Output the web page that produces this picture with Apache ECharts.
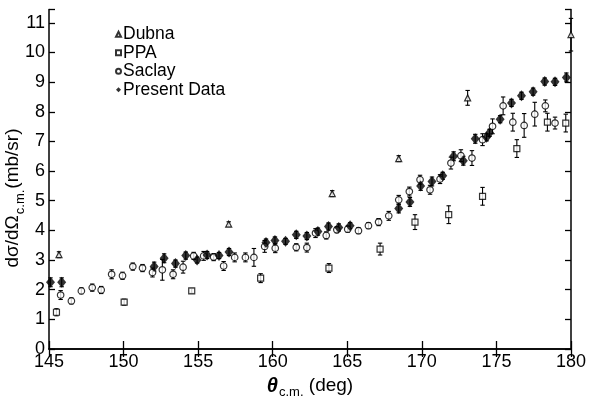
<!DOCTYPE html>
<html>
<head>
<meta charset="utf-8">
<script src="https://cdn.jsdelivr.net/npm/echarts@6/dist/echarts.min.js"></script>
<style>
html,body{margin:0;padding:0;background:#fff;}
#chart{width:589px;height:402px;}
</style>
</head>
<body>
<div id="chart"></div>
<script>
// [theta (deg), dsigma/dOmega (mb/sr), error]
var dubna = [[145.67,3.18,0.1],[157.05,4.21,0.08],[163.99,5.24,0.1],[168.45,6.42,0.1],[173.07,8.47,0.25],[180.0,10.6,0.55]];
var ppa = [[145.5,1.24,0.12],[150.04,1.58,0.1],[154.57,1.96,0.08],[159.19,2.39,0.15],[163.77,2.73,0.15],[167.2,3.37,0.2],[169.54,4.28,0.25],[171.8,4.53,0.3],[174.07,5.15,0.3],[176.37,6.76,0.3],[178.42,7.65,0.3],[179.65,7.62,0.3]];
var saclay = [[145.78,1.82,0.15],[146.5,1.62,0.1],[147.17,1.96,0.1],[147.9,2.07,0.12],[148.5,1.99,0.12],[149.2,2.52,0.15],[149.93,2.47,0.12],[150.62,2.78,0.12],[151.27,2.73,0.12],[151.94,2.58,0.15],[152.6,2.67,0.35],[153.32,2.52,0.15],[153.99,2.76,0.2],[154.7,3.14,0.12],[155.37,3.14,0.15],[156.04,3.1,0.12],[156.71,2.8,0.15],[157.45,3.09,0.15],[158.17,3.09,0.15],[158.74,3.09,0.3],[159.46,3.46,0.2],[160.17,3.40,0.15],[161.58,3.43,0.12],[162.29,3.42,0.15],[162.87,3.91,0.15],[163.59,3.83,0.12],[164.3,4.02,0.1],[165.03,4.04,0.1],[165.75,3.99,0.1],[166.42,4.16,0.1],[167.1,4.28,0.12],[167.78,4.49,0.15],[168.45,5.03,0.15],[169.16,5.31,0.15],[169.88,5.71,0.15],[170.55,5.37,0.15],[171.22,5.73,0.15],[171.95,6.27,0.2],[172.62,6.52,0.2],[173.36,6.44,0.25],[174.07,7.06,0.2],[174.74,7.51,0.25],[175.45,8.2,0.3],[176.1,7.65,0.3],[176.86,7.54,0.4],[177.57,7.92,0.4],[178.28,8.2,0.2],[178.93,7.62,0.2]];
var present = [[145.1,2.25,0.15],[145.85,2.25,0.15],[152.05,2.78,0.15],[152.72,3.06,0.15],[153.48,2.88,0.12],[154.17,3.15,0.12],[154.93,3.0,0.1],[155.6,3.17,0.12],[156.4,3.15,0.1],[157.07,3.27,0.12],[159.55,3.59,0.12],[160.15,3.66,0.12],[160.86,3.63,0.1],[161.58,3.85,0.12],[162.29,3.81,0.12],[163.03,3.96,0.12],[163.74,4.13,0.12],[164.43,4.1,0.12],[165.19,4.16,0.1],[168.45,4.74,0.15],[169.2,4.96,0.15],[169.92,5.5,0.15],[170.68,5.65,0.15],[171.4,5.84,0.12],[172.13,6.5,0.15],[172.78,6.35,0.15],[173.58,7.09,0.15],[174.34,7.14,0.12],[174.54,7.29,0.12],[175.25,7.75,0.12],[176.01,8.3,0.12],[176.68,8.54,0.12],[177.46,8.68,0.12],[178.24,9.02,0.12],[178.93,9.01,0.12],[179.69,9.16,0.15]];
var xTicks = {min:145, max:180, step:5};
var yTicks = {min:0, max:11, step:1};
var seriesNames = ['Dubna','PPA','Saclay','Present Data'];

var FONT = 'Liberation Sans';
var chart = echarts.init(document.getElementById('chart'), null, {renderer:'canvas'});

function errSeries(arr){
  return {
    type:'custom', silent:true, z:1,
    data: arr,
    encode:{x:0,y:[1]},
    renderItem:function(params, api){
      var x = api.value(0), y = api.value(1), e = api.value(2);
      var p1 = api.coord([x, y - e]);
      var p2 = api.coord([x, y + e]);
      var c = 2.2;
      var st = {stroke:'#000', lineWidth:1.1};
      return {type:'group', children:[
        {type:'line', shape:{x1:p1[0],y1:p1[1],x2:p2[0],y2:p2[1]}, style:st},
        {type:'line', shape:{x1:p1[0]-c,y1:p1[1],x2:p1[0]+c,y2:p1[1]}, style:st},
        {type:'line', shape:{x1:p2[0]-c,y1:p2[1],x2:p2[0]+c,y2:p2[1]}, style:st}
      ]};
    }
  };
}
function pts(arr){ return arr.map(function(d){return [d[0], d[1]];}); }

var openStyle = {color:'#fff', borderColor:'#000', borderWidth:1.2};
var axisLineStyle = {show:true, lineStyle:{color:'#000', width:1.5}};
var option = {
  animation:false,
  backgroundColor:'#fff',
  grid:{left:49, right:17, top:9.5, bottom:53, show:false},
  legend:{
    data:[
      {name:'Dubna', icon:'triangle'},
      {name:'PPA', icon:'rect'},
      {name:'Saclay', icon:'circle'},
      {name:'Present Data', icon:'diamond'}
    ],
    orient:'vertical', left:110, top:20, itemGap:0, itemWidth:5, itemHeight:5,
    textStyle:{fontFamily:FONT, fontSize:17.5, color:'#000', lineHeight:18.5, padding:[0,0,0,-3]}
  },
  xAxis:[
    {type:'value', min:xTicks.min, max:xTicks.max, interval:xTicks.step, position:'bottom',
     axisLine:axisLineStyle, splitLine:{show:false},
     axisTick:{inside:true, length:8, lineStyle:{color:'#000', width:1.3}},
     axisLabel:{fontFamily:FONT, fontSize:18, color:'#000', margin:4}},
    {type:'value', min:xTicks.min, max:xTicks.max, interval:xTicks.step, position:'top',
     axisLine:axisLineStyle, splitLine:{show:false},
     axisTick:{inside:true, length:8, lineStyle:{color:'#000', width:1.3}},
     axisLabel:{show:false}}
  ],
  yAxis:[
    {type:'value', min:yTicks.min, max:11.45, interval:yTicks.step, position:'left',
     axisLine:axisLineStyle, splitLine:{show:false},
     axisTick:{inside:true, length:6, lineStyle:{color:'#000', width:1.3}},
     axisLabel:{fontFamily:FONT, fontSize:18, color:'#000', margin:4,
       formatter:function(v){ return (Math.abs(v-Math.round(v))<1e-6 && v<=yTicks.max) ? String(Math.round(v)) : ''; }}},
    {type:'value', min:yTicks.min, max:11.45, interval:yTicks.step, position:'right',
     axisLine:axisLineStyle, splitLine:{show:false},
     axisTick:{inside:true, length:6, lineStyle:{color:'#000', width:1.3}},
     axisLabel:{show:false}}
  ],
  series:[
    errSeries(dubna), errSeries(ppa), errSeries(saclay), errSeries(present),
    {name:seriesNames[0], type:'scatter', z:3, data:pts(dubna), symbol:'triangle', symbolSize:6,
     itemStyle:openStyle},
    {name:seriesNames[1], type:'scatter', z:3, data:pts(ppa), symbol:'rect', symbolSize:6,
     itemStyle:openStyle},
    {name:seriesNames[2], type:'scatter', z:3, data:pts(saclay), symbol:'circle', symbolSize:6.5,
     itemStyle:openStyle},
    {name:seriesNames[3], type:'scatter', z:4, data:pts(present), symbol:'diamond', symbolSize:[9,11],
     itemStyle:{color:'#000'}}
  ],
  graphic:[
    {type:'text', x:310, y:387, z:10,
     style:{
       text:'{t|θ}{s|c.m.}{a| (deg)}',
       align:'center', verticalAlign:'middle', fill:'#000',
       rich:{
         t:{fontFamily:FONT, fontSize:20, fontStyle:'italic', fontWeight:'bold', lineHeight:22, verticalAlign:'top', fill:'#000'},
         s:{fontFamily:FONT, fontSize:13, lineHeight:13, padding:[10,0,0,1], verticalAlign:'top', fill:'#000'},
         a:{fontFamily:FONT, fontSize:19, lineHeight:22, verticalAlign:'top', fill:'#000'}
       }
     }},
    {type:'text', x:14, y:198, rotation:Math.PI/2, z:10,
     style:{
       text:'{a|dσ/dΩ}{s|c.m.}{a|(mb/sr)}',
       align:'center', verticalAlign:'middle', fill:'#000',
       rich:{
         a:{fontFamily:FONT, fontSize:19, lineHeight:22, verticalAlign:'top', fill:'#000'},
         s:{fontFamily:FONT, fontSize:13, lineHeight:13, padding:[11,1,0,1], verticalAlign:'top', fill:'#000'}
       }
     }}
  ]
};
chart.setOption(option);
</script>
</body>
</html>
